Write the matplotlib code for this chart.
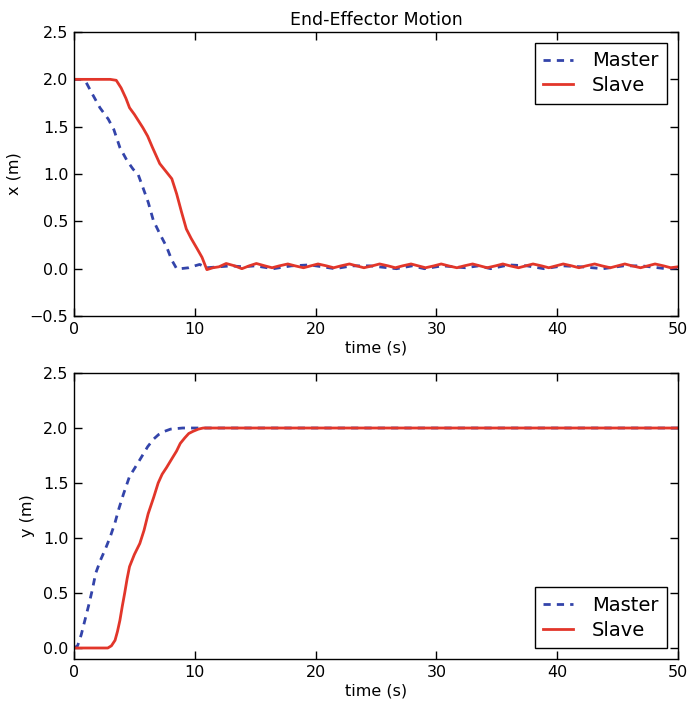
import matplotlib
matplotlib.use('Agg')
import matplotlib.pyplot as plt

# Colours
MASTER_COLOR = '#3344aa'
SLAVE_COLOR = '#e2362a'

# x position, master
tx_master = [0, 0.5, 1.0, 1.5, 2.15, 2.84, 3.3, 3.8, 4.4, 4.9, 5.3, 5.7, 6.15, 6.57,
             7.1, 7.67, 8.1, 8.5, 8.8, 9.5, 10.0, 10.4, 11.0, 12.0, 13.0, 14.0,
             15.0, 16.5, 18.0, 19.5, 21.6, 23.0, 24.5, 26.7, 28.0, 29.0, 30.5,
             32.4, 33.5, 34.5, 36.0, 37.5, 38.9, 40.5, 42.0, 43.8, 45.5, 47.0,
             49.0, 50.0]
x_master = [2.0, 2.0, 1.97, 1.85, 1.70, 1.58, 1.47, 1.28, 1.14, 1.05, 1.0, 0.86,
            0.70, 0.51, 0.37, 0.23, 0.09, 0.0, 0.0, 0.01, 0.03, 0.045, 0.01, 0.02,
            0.03, 0.02, 0.03, 0.0, 0.03, 0.04, 0.0, 0.03, 0.03, 0.0, 0.03, 0.0,
            0.03, 0.01, 0.03, 0.0, 0.04, 0.03, 0.0, 0.03, 0.02, 0.0, 0.03, 0.03,
            0.0, 0.01]

# x position, slave
tx_slave = [0, 3.0, 3.5, 3.9, 4.3, 4.6, 5.0, 5.7, 6.1, 6.5, 7.1, 7.6, 8.1, 8.5,
            8.9, 9.3, 9.7, 10.2, 10.6, 11.0, 11.5, 12.0, 12.6, 13.3, 13.9, 14.5,
            15.1, 15.8, 16.4, 17.0, 17.7, 18.3, 19.0, 19.6, 20.2, 20.9, 21.5,
            22.1, 22.8, 23.4, 24.0, 24.7, 25.3, 26.0, 26.6, 27.2, 27.9, 28.5,
            29.1, 29.8, 30.4, 31.0, 31.7, 32.3, 33.0, 33.6, 34.2, 34.9, 35.5,
            36.1, 36.8, 37.4, 38.0, 38.7, 39.3, 39.9, 40.5, 41.2, 41.8, 42.4,
            43.1, 43.7, 44.4, 45.0, 45.6, 46.2, 46.9, 47.5, 48.1, 48.8, 49.4, 50.0]
x_slave = [2.0, 2.0, 1.99, 1.91, 1.80, 1.70, 1.63, 1.49, 1.40, 1.28, 1.11, 1.03,
           0.95, 0.79, 0.60, 0.42, 0.32, 0.21, 0.12, -0.01, 0.01, 0.02, 0.055,
           0.03, 0.0, 0.03, 0.055, 0.03, 0.01, 0.03, 0.05, 0.03, 0.01, 0.03,
           0.05, 0.03, 0.01, 0.03, 0.05, 0.03, 0.01, 0.03, 0.05, 0.03, 0.01,
           0.03, 0.05, 0.03, 0.01, 0.03, 0.05, 0.03, 0.01, 0.03, 0.05, 0.03,
           0.01, 0.03, 0.05, 0.03, 0.01, 0.03, 0.05, 0.03, 0.01, 0.03, 0.05,
           0.03, 0.01, 0.03, 0.05, 0.03, 0.01, 0.03, 0.05, 0.03, 0.01, 0.03,
           0.05, 0.03, 0.01, 0.02]

# y position, master
ty_master = [0, 0.3, 0.6, 0.9, 1.2, 1.5, 1.8, 2.2, 2.6, 3.0, 3.4, 3.7, 4.1, 4.6,
             5.0, 5.5, 6.1, 6.6, 7.0, 7.5, 8.0, 9.0, 50.0]
y_master = [0, 0.02, 0.12, 0.25, 0.38, 0.52, 0.68, 0.80, 0.90, 1.01, 1.14, 1.26,
            1.40, 1.56, 1.63, 1.72, 1.83, 1.90, 1.94, 1.97, 1.99, 2.0, 2.0]

# y position, slave
ty_slave = [0, 2.8, 3.1, 3.4, 3.6, 3.8, 4.0, 4.2, 4.4, 4.6, 5.0, 5.45, 5.8, 6.14,
            6.6, 6.97, 7.3, 7.66, 8.1, 8.49, 8.8, 9.17, 9.5, 9.86, 10.3, 10.7, 50.0]
y_slave = [0, 0.0, 0.02, 0.07, 0.15, 0.25, 0.38, 0.50, 0.63, 0.74, 0.85, 0.95,
           1.07, 1.22, 1.37, 1.50, 1.58, 1.64, 1.72, 1.79, 1.86, 1.91, 1.95,
           1.97, 1.99, 2.0, 2.0]

plt.rcParams['font.family'] = 'DejaVu Sans'

fig = plt.figure(figsize=(6.9, 7.07), dpi=100)
fig.patch.set_facecolor('white')
ax1 = fig.add_axes([0.1072, 0.5530, 0.8754, 0.4017])
ax2 = fig.add_axes([0.1072, 0.0679, 0.8754, 0.4045])


def style_axes(ax):
    ax.tick_params(direction='in', top=True, right=True, length=6, width=1,
                   labelsize=11.5, pad=4)
    for sp in ax.spines.values():
        sp.set_linewidth(1.0)
        sp.set_color('black')
    ax.set_xlim(0, 50)
    ax.set_xticks([0, 10, 20, 30, 40, 50])
    ax.set_xlabel('time (s)', fontsize=11.5, labelpad=3)


def add_legend(ax, loc):
    leg = ax.legend(loc=loc, fontsize=14, fancybox=False, framealpha=1,
                    edgecolor='black', handlelength=1.5, handletextpad=1.0,
                    borderpad=0.45, labelspacing=0.3, borderaxespad=0.55)
    leg.get_frame().set_linewidth(1.0)


ax1.plot(tx_master, x_master, color=MASTER_COLOR, lw=2, linestyle=(0, (2.6, 2.2)),
         label='Master')
ax1.plot(tx_slave, x_slave, color=SLAVE_COLOR, lw=2, label='Slave')
style_axes(ax1)
ax1.set_ylim(-0.5, 2.5)
ax1.set_yticks([-0.5, 0.0, 0.5, 1.0, 1.5, 2.0, 2.5])
ax1.set_ylabel('x (m)', fontsize=11.5, labelpad=6)
ax1.set_title('End-Effector Motion', fontsize=12.5, pad=5)
add_legend(ax1, 'upper right')

ax2.plot(ty_master, y_master, color=MASTER_COLOR, lw=2, linestyle=(0, (2.6, 2.2)),
         label='Master')
ax2.plot(ty_slave, y_slave, color=SLAVE_COLOR, lw=2, label='Slave')
style_axes(ax2)
ax2.set_ylim(-0.1, 2.5)
ax2.set_yticks([0.0, 0.5, 1.0, 1.5, 2.0, 2.5])
ax2.set_ylabel('y (m)', fontsize=11.5, labelpad=6)
add_legend(ax2, 'lower right')

fig.savefig('out.png', dpi=100, facecolor='white')
